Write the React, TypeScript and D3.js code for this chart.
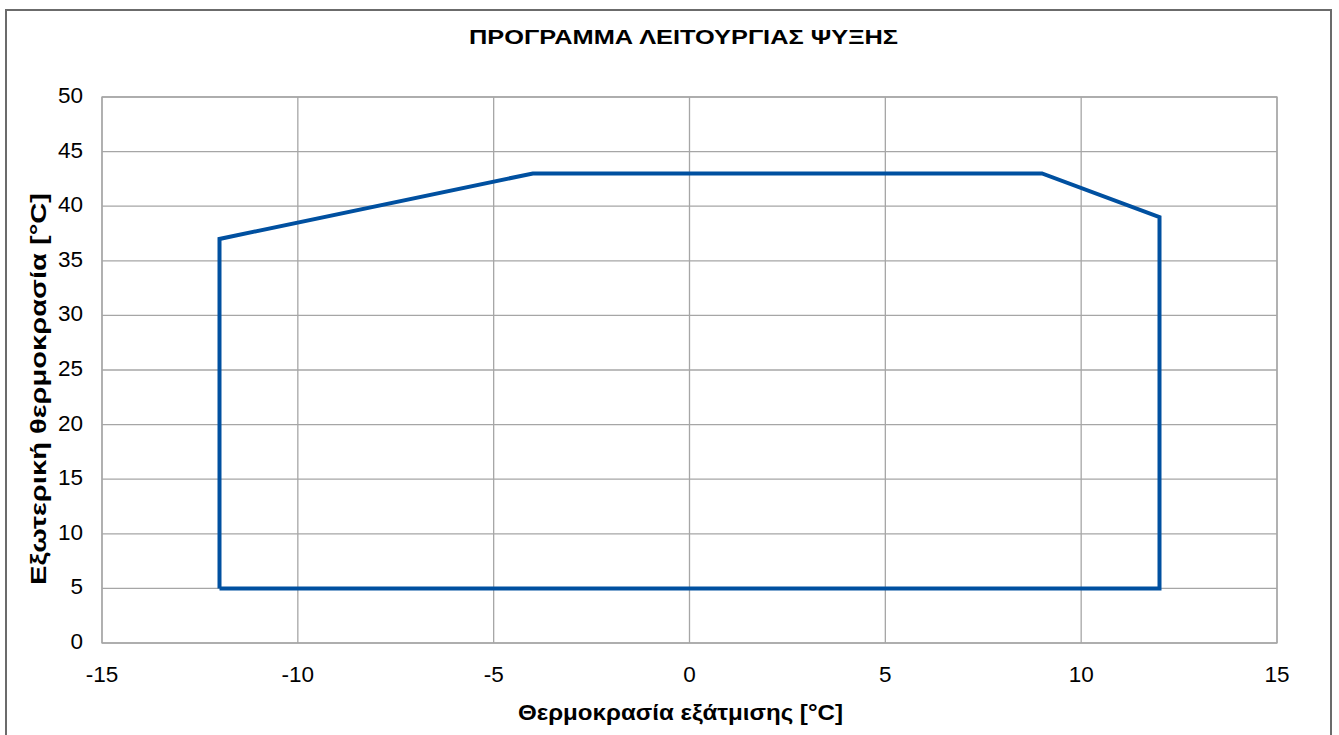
import React from 'react'
import * as d3 from 'd3'

const envelopeX = [-12, -12, -4, 9, 12, 12, -12]
const envelopeY = [5, 37, 43, 43, 39, 5, 5]
const xTicks = [-15, -10, -5, 0, 5, 10, 15]
const yTicks = [0, 5, 10, 15, 20, 25, 30, 35, 40, 45, 50]

const title = 'ΠΡΟΓΡΑΜΜΑ ΛΕΙΤΟΥΡΓΙΑΣ ΨΥΞΗΣ'
const xTitle = 'Θερμοκρασία εξάτμισης [°C]'
const yTitle = 'Εξωτερική θερμοκρασία [°C]'

const width = 1339
const height = 735
const margin = { left: 102, right: 62, top: 97, bottom: 92 }

export default function App() {
  const innerWidth = width - margin.left - margin.right
  const innerHeight = height - margin.top - margin.bottom

  const xScale = d3.scaleLinear().domain([-15, 15]).range([0, innerWidth])
  const yScale = d3.scaleLinear().domain([0, 50]).range([innerHeight, 0])

  const points: [number, number][] = envelopeX.map((x, i) => [x, envelopeY[i]])
  const line = d3.line<[number, number]>()
    .x(d => xScale(d[0]))
    .y(d => yScale(d[1]))

  const font = 'Arial, "Liberation Sans", sans-serif'

  return (
    <svg width={width} height={height} style={{ position: 'absolute', left: 0, top: 0 }} fontFamily={font}>
      <rect x={0} y={0} width={width} height={height} fill="white" />
      <rect x={6} y={10} width={1325} height={740} fill="none" stroke="#6b6b6b" strokeWidth={2} />
      <text x={683.5} y={44} textAnchor="middle" fontSize={21} fontWeight="bold"
        textLength={429} lengthAdjust="spacingAndGlyphs">{title}</text>
      <g transform={`translate(${margin.left},${margin.top})`}>
        {xTicks.map((t, i) => (
          <g key={i} transform={`translate(${xScale(t)},0)`}>
            <line y2={innerHeight} stroke="#a6a6a6" strokeWidth={1.3} />
            <text y={innerHeight + 39} textAnchor="middle" fontSize={22.5}>{t}</text>
          </g>
        ))}
        {yTicks.map((t, i) => (
          <g key={i} transform={`translate(0,${yScale(t)})`}>
            <line x2={innerWidth} stroke="#a6a6a6" strokeWidth={1.3} />
            <text x={-19} y={6} textAnchor="end" fontSize={22.5}>{t}</text>
          </g>
        ))}
        <rect x={0} y={0} width={innerWidth} height={innerHeight} fill="none" stroke="#a6a6a6" strokeWidth={1.3} />
        <path d={line(points) || ''} fill="none" stroke="#0050a0" strokeWidth={4} strokeLinejoin="miter" />
      </g>
      <text x={680.5} y={720} textAnchor="middle" fontSize={22.5} fontWeight="bold"
        textLength={325} lengthAdjust="spacingAndGlyphs">{xTitle}</text>
      <text transform={`translate(46,389) rotate(-90)`} textAnchor="middle" fontSize={22.5} fontWeight="bold"
        textLength={392} lengthAdjust="spacingAndGlyphs">{yTitle}</text>
    </svg>
  )
}
